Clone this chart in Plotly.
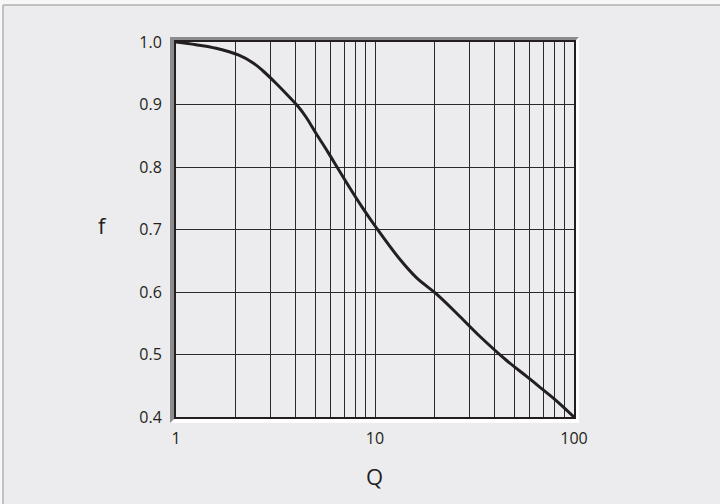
import plotly.graph_objects as go

# Data
Q = [1.0, 1.26, 1.59, 2.07, 2.43, 2.73, 3.18, 3.71, 4.09, 4.50, 5.05, 5.78, 6.50,
     7.49, 8.58, 10.2, 13.4, 16.2, 20.4, 26.7, 33.4, 45.4, 57.8, 67.5, 81.9, 100.0]
f = [1.0, 0.9957, 0.990, 0.979, 0.967, 0.954, 0.934, 0.9120, 0.8975, 0.8800, 0.854,
     0.8246, 0.798, 0.766, 0.7367, 0.702, 0.6515, 0.6225, 0.5965, 0.5608, 0.530,
     0.4916, 0.465, 0.4475, 0.4255, 0.400]

x_tickvals = [1, 2, 3, 4, 5, 6, 7, 8, 9, 10, 20, 30, 40, 50, 60, 70, 80, 90, 100]
x_ticktext = ["1", "", "", "", "", "", "", "", "", "10", "", "", "", "", "", "", "", "", "100"]
y_tickvals = [0.4, 0.5, 0.6, 0.7, 0.8, 0.9, 1.0]
y_ticktext = ["0.4", "0.5", "0.6", "0.7", "0.8", "0.9", "1.0"]

W, H = 720, 504
L, R, T, B = 176, 574, 42, 417  # plot area pixels
PW, PH = R - L, B - T

def px(x):
    return (x - L) / PW

def py(y):
    return (B - y) / PH

fig = go.Figure()
fig.add_trace(go.Scatter(
    x=Q, y=f, mode="lines",
    line=dict(color="#231f20", width=3, shape="spline", smoothing=1.0),
    hoverinfo="skip", showlegend=False,
))

shapes = []
# outer panel background
shapes.append(dict(type="rect", xref="paper", yref="paper", layer="below",
                   x0=px(3), x1=px(730), y0=py(515), y1=py(5),
                   fillcolor="#ececee", line=dict(width=0)))
# panel border (top and left only)
shapes.append(dict(type="line", xref="paper", yref="paper", layer="below",
                   x0=px(3), x1=px(730), y0=py(5), y1=py(5),
                   line=dict(color="#b0b0b0", width=1.5)))
shapes.append(dict(type="line", xref="paper", yref="paper", layer="below",
                   x0=px(3), x1=px(3), y0=py(5), y1=py(515),
                   line=dict(color="#b0b0b0", width=1.5)))
# white bevel (bottom/right)
shapes.append(dict(type="path", xref="paper", yref="paper", layer="below",
                   path=f"M {px(170)},{py(423)} L {px(579)},{py(423)} L {px(579)},{py(37)} "
                        f"L {px(574)},{py(42)} L {px(574)},{py(417)} L {px(176)},{py(417)} Z",
                   fillcolor="#ffffff", line=dict(width=0)))
# gray bevel (top/left)
shapes.append(dict(type="path", xref="paper", yref="paper", layer="below",
                   path=f"M {px(170)},{py(423)} L {px(170)},{py(37)} L {px(579)},{py(37)} "
                        f"L {px(574)},{py(42)} L {px(176)},{py(42)} L {px(176)},{py(417)} Z",
                   fillcolor="#8c8c8e", line=dict(width=0)))

fig.update_layout(
    width=W, height=H,
    margin=dict(l=L, r=W - R, t=T, b=H - B, pad=0),
    paper_bgcolor="#f7f7f7",
    plot_bgcolor="#ffffff",
    font=dict(family="Open Sans, sans-serif", size=16, color="#231f20"),
    shapes=shapes,
    annotations=[
        dict(text="f", xref="paper", yref="paper", x=px(102), y=py(225),
             showarrow=False, font=dict(size=22, color="#231f20"),
             xanchor="center", yanchor="middle"),
        dict(text="Q", xref="paper", yref="paper", x=px(374), y=py(476),
             showarrow=False, font=dict(size=22, color="#231f20"),
             xanchor="center", yanchor="middle"),
    ],
)

fig.update_xaxes(
    type="log", range=[0, 2],
    tickmode="array", tickvals=x_tickvals, ticktext=x_ticktext,
    showgrid=True, gridcolor="#2a2a2a", gridwidth=1,
    showline=True, linecolor="#231f20", linewidth=2, mirror=True,
    ticks="outside", ticklen=6, tickcolor="rgba(0,0,0,0)",
    zeroline=False, tickfont=dict(size=16, color="#231f20"),
)
fig.update_yaxes(
    range=[0.4, 1.0],
    tickmode="array", tickvals=y_tickvals, ticktext=y_ticktext,
    showgrid=True, gridcolor="#2a2a2a", gridwidth=1,
    showline=True, linecolor="#231f20", linewidth=2, mirror=True,
    ticks="outside", ticklen=9, tickcolor="rgba(0,0,0,0)",
    zeroline=False, tickfont=dict(size=16, color="#231f20"),
)

fig.write_html("out.html", config={"displayModeBar": False},
               post_script="document.body.style.margin='0';")
